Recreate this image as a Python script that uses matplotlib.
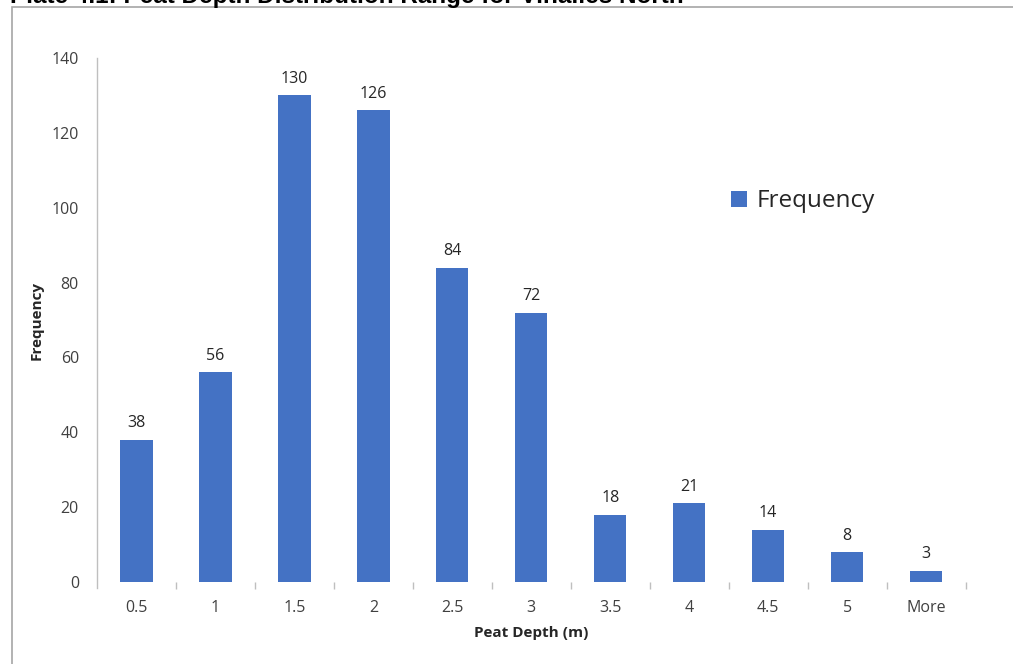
import matplotlib
matplotlib.use("Agg")
import matplotlib.pyplot as plt
from matplotlib.patches import Rectangle

categories = ["0.5", "1", "1.5", "2", "2.5", "3", "3.5", "4", "4.5", "5", "More"]
frequency = [38, 56, 130, 126, 84, 72, 18, 21, 14, 8, 3]

title_text = "Plate 4.1: Peat Depth Distribution Range for Vinalles North"
x_label = "Peat Depth (m)"
y_label = "Frequency"
series_name = "Frequency"

bar_color = "#4472C4"
axis_grey = "#BFBFBF"
text_color = "#404040"

plt.rcParams["font.family"] = ["Open Sans", "DejaVu Sans"]

fig = plt.figure(figsize=(10.13, 6.64), dpi=100)
fig.patch.set_facecolor("white")

# Outer chart frame
fig.add_artist(Rectangle((12 / 1013, -0.05), 1.1, 1 - 7 / 664 + 0.05,
                         transform=fig.transFigure, fill=False,
                         edgecolor="#A6A6A6", linewidth=1.2))

# Heading sitting at the very top edge of the page
fig.text(10 / 1013, 1 - 3 / 664, title_text, ha="left", va="baseline",
         fontsize=17.5, fontweight="bold", color="black",
         family=["Liberation Sans", "DejaVu Sans"])

ax = fig.add_axes([97 / 1013, 1 - 582 / 664, (965.5 - 97) / 1013, (582 - 58) / 664])
x = list(range(len(categories)))
bars = ax.bar(x, frequency, width=0.41, color=bar_color, label=series_name, zorder=2)

for xi, v in zip(x, frequency):
    ax.annotate(str(v), (xi, v), xytext=(0, 6), textcoords="offset points",
                ha="center", va="bottom", fontsize=11.5, color="#262626")

ax.set_xlim(-0.5, len(categories) - 0.5)
ax.set_ylim(0, 140)
ax.set_yticks(range(0, 141, 20))
ax.set_xticks(x)
ax.set_xticklabels(categories)
ax.set_xticks([i + 0.5 for i in x[:-1]] + [len(categories) - 0.5], minor=True)

for side in ("top", "right", "bottom"):
    ax.spines[side].set_visible(False)
ax.spines["left"].set_color(axis_grey)
ax.spines["left"].set_linewidth(1.0)
ax.spines["left"].set_bounds(-1.5, 140)

ax.tick_params(axis="y", length=0, pad=13, labelsize=11.5, labelcolor=text_color)
ax.tick_params(axis="x", which="major", length=0, pad=13, labelsize=11.5, labelcolor=text_color)
ax.tick_params(axis="x", which="minor", length=5, width=1, color=axis_grey)

ax.set_xlabel(x_label, fontsize=11, fontweight="bold", color="#262626", labelpad=7)
ax.set_ylabel(y_label, fontsize=11, fontweight="bold", color="#262626", labelpad=6)

leg = fig.legend(handles=[bars], labels=[series_name], loc="center left",
                 bbox_to_anchor=(0.70, 0.697), frameon=False, fontsize=17.5,
                 handlelength=0.65, handleheight=0.65, handletextpad=0.4)
for t in leg.get_texts():
    t.set_color("#262626")

fig.savefig("out.png", dpi=100, facecolor="white")
